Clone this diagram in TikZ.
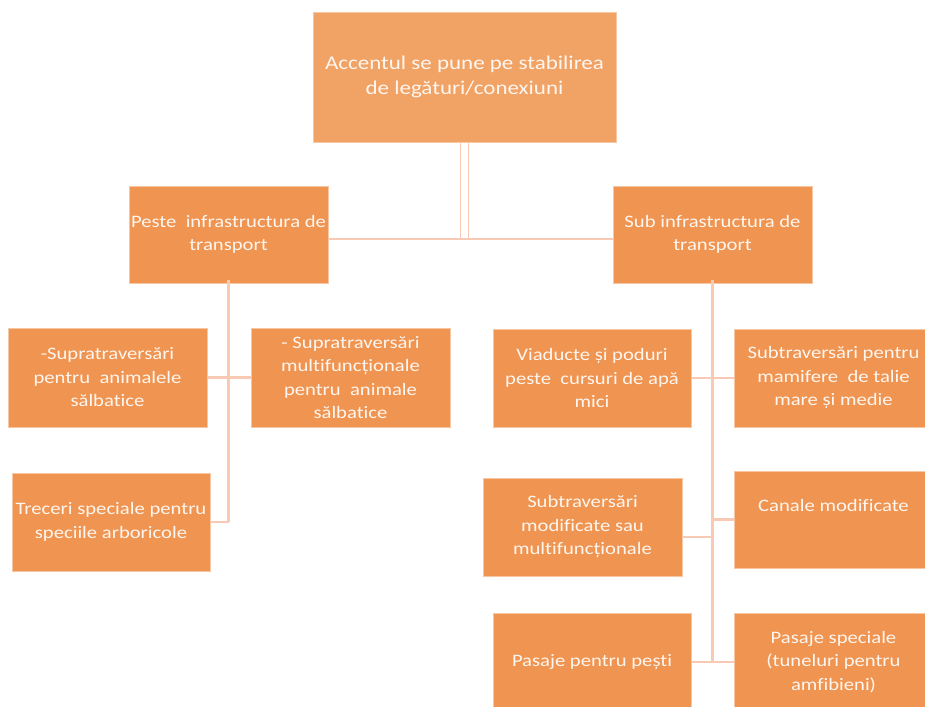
\documentclass[tikz,border=0pt]{standalone}
\usepackage{fontspec}
\setmainfont{Carlito}[FakeStretch=1.18, Ligatures=CommonOff]
\definecolor{topfill}{HTML}{F1A265}
\definecolor{boxfill}{HTML}{EF9451}
\definecolor{boxedge}{HTML}{F7C6A2}
\definecolor{linkc}{HTML}{F8C9B3}
\definecolor{txt}{HTML}{FFF6EF}
\tikzset{
  box/.style={rectangle, fill=boxfill, draw=boxedge, line width=0.8pt, inner sep=0pt,
    align=center, text=txt, font=\fontsize{17.5}{23.5}\selectfont},
  topbox/.style={box, fill=topfill, font=\fontsize{19.5}{25}\selectfont},
  link/.style={draw=linkc, line width=2.6pt},
  dlink/.style={draw=linkc, line width=1.6pt}
}
\begin{document}
\begin{tikzpicture}[x=1pt,y=-1pt]
\useasboundingbox (0,0) rectangle (925,706);
\clip (0,0) rectangle (925,706);
\fill[white] (0,0) rectangle (925,706);

\node[topbox, minimum width=303pt, minimum height=130pt] (top) at (464.5,77) {Accentul se pune pe stabilirea\\de legături/conexiuni};

\node[box, minimum width=199pt, minimum height=97pt] (L) at (228.5,234.5) {Peste\ \ infrastructura de\\transport};
\node[box, minimum width=199pt, minimum height=97pt] (R) at (712.5,234.5) {Sub infrastructura de\\transport};

\node[box, minimum width=199pt, minimum height=99pt] (A) at (107.5,377.5) {-Supratraversări\\pentru\ \ animalele\\sălbatice};
\node[box, minimum width=199pt, minimum height=99pt] (B) at (350.5,377.5) {- Supratraversări\\multifuncționale\\pentru\ \ animale\\sălbatice};
\node[box, minimum width=198pt, minimum height=98pt] (C) at (111,522) {Treceri speciale pentru\\speciile arboricole};

\node[box, minimum width=198pt, minimum height=98pt] (D) at (592,378) {Viaducte și poduri\\peste\ \ cursuri de apă\\mici};
\node[box, minimum width=199pt, minimum height=98pt] (E) at (833.5,378) {Subtraversări pentru\\mamifere\ \ de talie\\mare și medie};
\node[box, minimum width=199pt, minimum height=98pt] (F) at (582.5,527) {Subtraversări\\modificate sau\\multifuncționale};
\node[box, minimum width=199pt, minimum height=97pt] (G) at (833.5,519.5) {Canale modificate\\[4pt]};
\node[box, minimum width=198pt, minimum height=98pt] (H) at (592,662) {Pasaje pentru pești};
\node[box, minimum width=199pt, minimum height=98pt] (I) at (833.5,662) {Pasaje speciale\\(tuneluri pentru\\amfibieni)};

% top connector (double)
\coordinate (le) at ([yshift=-4.5pt]L.east);
\coordinate (j) at (top.south |- le);
\draw[dlink] ([xshift=-4pt]top.south) -- ([xshift=-4pt]j) -- ([xshift=4pt]j) -- ([xshift=4pt]top.south);
\draw[link] (le) -- (R.west |- le);

% left branch
\coordinate (lb) at (L.south |- C.east);
\draw[link] ([yshift=3pt]L.south) -- (lb);
\draw[link] (A.east) -- (B.west);
\draw[link] (C.east) -- (lb);

% right branch
\coordinate (rb) at (R.south |- H.east);
\draw[link] ([yshift=3pt]R.south) -- (rb);
\draw[link] (D.east) -- (E.west);
\coordinate (fe) at ([yshift=-10pt]F.east);
\draw[link] (fe) -- (R.south |- fe);
\draw[link] (G.west) -- (R.south |- G.west);
\draw[link] (H.east) -- (I.west);
\end{tikzpicture}
\end{document}
